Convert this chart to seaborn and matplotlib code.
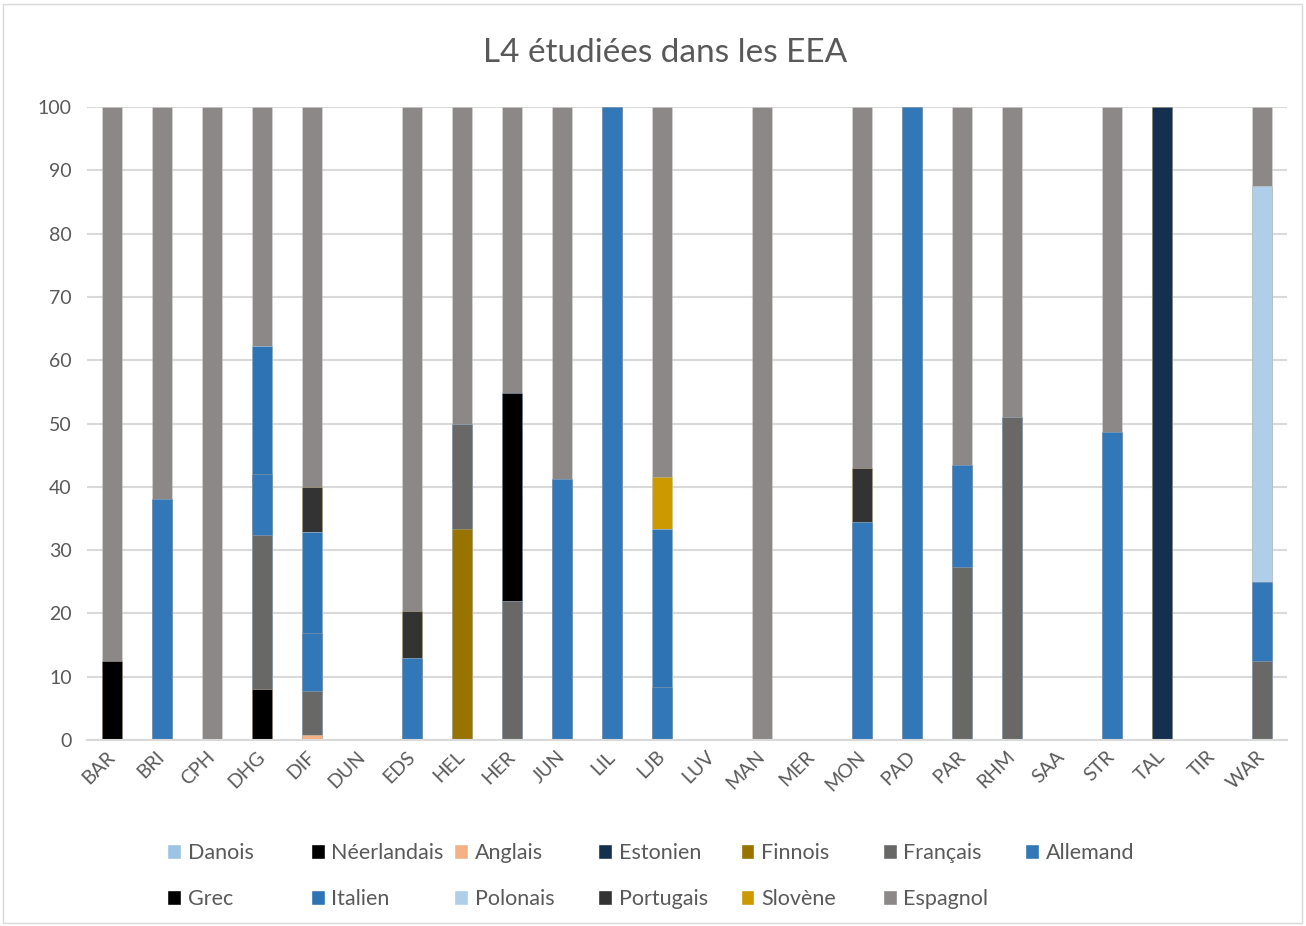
import numpy as np
import pandas as pd
import matplotlib
import seaborn as sns
import matplotlib.pyplot as plt
from matplotlib.patches import Patch, Rectangle

matplotlib.use('Agg')

categories = ['BAR', 'BRI', 'CPH', 'DHG', 'DIF', 'DUN', 'EDS', 'HEL', 'HER', 'JUN', 'LIL', 'LJB',
              'LUV', 'MAN', 'MER', 'MON', 'PAD', 'PAR', 'RHM', 'SAA', 'STR', 'TAL', 'TIR', 'WAR']

#            BAR   BRI   CPH   DHG   DIF  DUN  EDS   HEL   HER   JUN   LIL  LJB   LUV MAN  MER MON   PAD  PAR   RHM   SAA STR   TAL  TIR WAR
danois     = [0,    0,    0,    0,    0,   0,   0,    0,    0,    0,    0,   0,    0,  0,   0,  0,    0,   0,    0,    0,  0,    0,   0,  0]
neerlandais = [12.5, 0,   0,    8.1,  0,   0,   0,    0,    0,    0,    0,   0,    0,  0,   0,  0,    0,   0,    0,    0,  0,    0,   0,  0]
anglais    = [0,    0,    0,    0,    0.8, 0,   0,    0,    0,    0,    0,   0,    0,  0,   0,  0,    0,   0,    0,    0,  0,    0,   0,  0]
estonien   = [0,    0,    0,    0,    0,   0,   0,    0,    0,    0,    0,   0,    0,  0,   0,  0,    0,   0,    0,    0,  0,    100, 0,  0]
finnois    = [0,    0,    0,    0,    0,   0,   0,    33.3, 0,    0,    0,   0,    0,  0,   0,  0,    0,   0,    0,    0,  0,    0,   0,  0]
francais   = [0,    0,    0,    24.3, 7.0, 0,   0,    16.7, 21.9, 0,    0,   0,    0,  0,   0,  0,    0,   27.4, 51.0, 0,  0,    0,   0,  12.5]
allemand   = [0,    38.0, 0,    9.6,  9.1, 0,   13.0, 0,    0,    41.3, 100, 8.3,  0,  0,   0,  34.4, 100, 16.0, 0,    0,  48.7, 0,   0,  12.5]
grec       = [0,    0,    0,    0,    0,   0,   0,    0,    32.9, 0,    0,   0,    0,  0,   0,  0,    0,   0,    0,    0,  0,    0,   0,  0]
italien    = [0,    0,    0,    20.2, 16.0, 0,  0,    0,    0,    0,    0,   25.0, 0,  0,   0,  0,    0,   0,    0,    0,  0,    0,   0,  0]
polonais   = [0,    0,    0,    0,    0,   0,   0,    0,    0,    0,    0,   0,    0,  0,   0,  0,    0,   0,    0,    0,  0,    0,   0,  62.5]
portugais  = [0,    0,    0,    0,    7.0, 0,   7.3,  0,    0,    0,    0,   0,    0,  0,   0,  8.5,  0,   0,    0,    0,  0,    0,   0,  0]
slovene    = [0,    0,    0,    0,    0,   0,   0,    0,    0,    0,    0,   8.3,  0,  0,   0,  0,    0,   0,    0,    0,  0,    0,   0,  0]
espagnol   = [87.5, 62.0, 100,  37.8, 60.1, 0,  79.7, 50.0, 45.2, 58.7, 0,   58.4, 0,  100, 0,  57.1, 0,   56.6, 49.0, 0,  51.3, 0,   0,  12.5]

series = ['Danois', 'Néerlandais', 'Anglais', 'Estonien', 'Finnois', 'Français', 'Allemand',
          'Grec', 'Italien', 'Polonais', 'Portugais', 'Slovène', 'Espagnol']
values = [danois, neerlandais, anglais, estonien, finnois, francais, allemand,
          grec, italien, polonais, portugais, slovene, espagnol]
colors = ['#9DC3E6', '#000000', '#F4B183', '#13304E', '#997300', '#686866', '#3278B9',
          '#000000', '#2E73B3', '#AFCEEA', '#333333', '#CC9900', '#8C8887']

df = pd.DataFrame(dict(zip(series, values)), index=categories)
cum = df.cumsum(axis=1)

sns.set_style('white')
plt.rcParams['font.family'] = ['Lato', 'DejaVu Sans']
text_col = '#595959'

fig = plt.figure(figsize=(13.06, 9.26), dpi=100)
ax = fig.add_axes([0.0666, 0.2009, 0.919, 0.6835])

# stacked bars: draw cumulative totals from the top layer down
for name, col in reversed(list(zip(series, colors))):
    d = pd.DataFrame({'cat': categories, 'val': cum[name].values})
    sns.barplot(data=d, x='cat', y='val', order=categories, color=col,
                width=0.4, saturation=1, ax=ax, linewidth=0.6,
                edgecolor=(1, 1, 1, 0.25))

ax.set_ylim(0, 100)
ax.set_xlim(-0.5, len(categories) - 0.5)
ax.set_yticks(np.arange(0, 101, 10))
ax.yaxis.grid(True, color='#D9D9D9', linewidth=1.5)
ax.set_axisbelow(True)
for s in ['top', 'right', 'left']:
    ax.spines[s].set_visible(False)
ax.spines['bottom'].set_color('#D9D9D9')
ax.spines['bottom'].set_linewidth(1.5)
ax.set_xlabel('')
ax.set_ylabel('')
ax.tick_params(axis='both', length=0, labelsize=14, colors=text_col)
ax.tick_params(axis='y', pad=11)
plt.setp(ax.get_xticklabels(), rotation=45, ha='right', va='center', rotation_mode='anchor')
ax.tick_params(axis='x', pad=10)

fig.text(0.509, 0.943, 'L4 étudiées dans les EEA', ha='center', va='center',
         fontsize=24, color=text_col)

# legend: 7 columns, filled row by row
col_x = [0.128, 0.238, 0.348, 0.458, 0.567, 0.676, 0.785]
for c in range(7):
    idx = [i for i in (c, c + 7) if i < len(series)]
    handles = [Patch(facecolor=colors[i], label=series[i]) for i in idx]
    fig.legend(handles=handles, loc='upper left', bbox_to_anchor=(col_x[c], 0.0895),
               bbox_transform=fig.transFigure, frameon=False, fontsize=15.5,
               labelcolor=text_col, handlelength=0.65, handleheight=0.65,
               handletextpad=0.3, labelspacing=1.2, borderaxespad=0, borderpad=0)

fig.patches.append(Rectangle((0.002, 0.003), 0.995, 0.993, transform=fig.transFigure,
                             fill=False, edgecolor='#D9D9D9', linewidth=1))

fig.savefig('out.png', dpi=100)
